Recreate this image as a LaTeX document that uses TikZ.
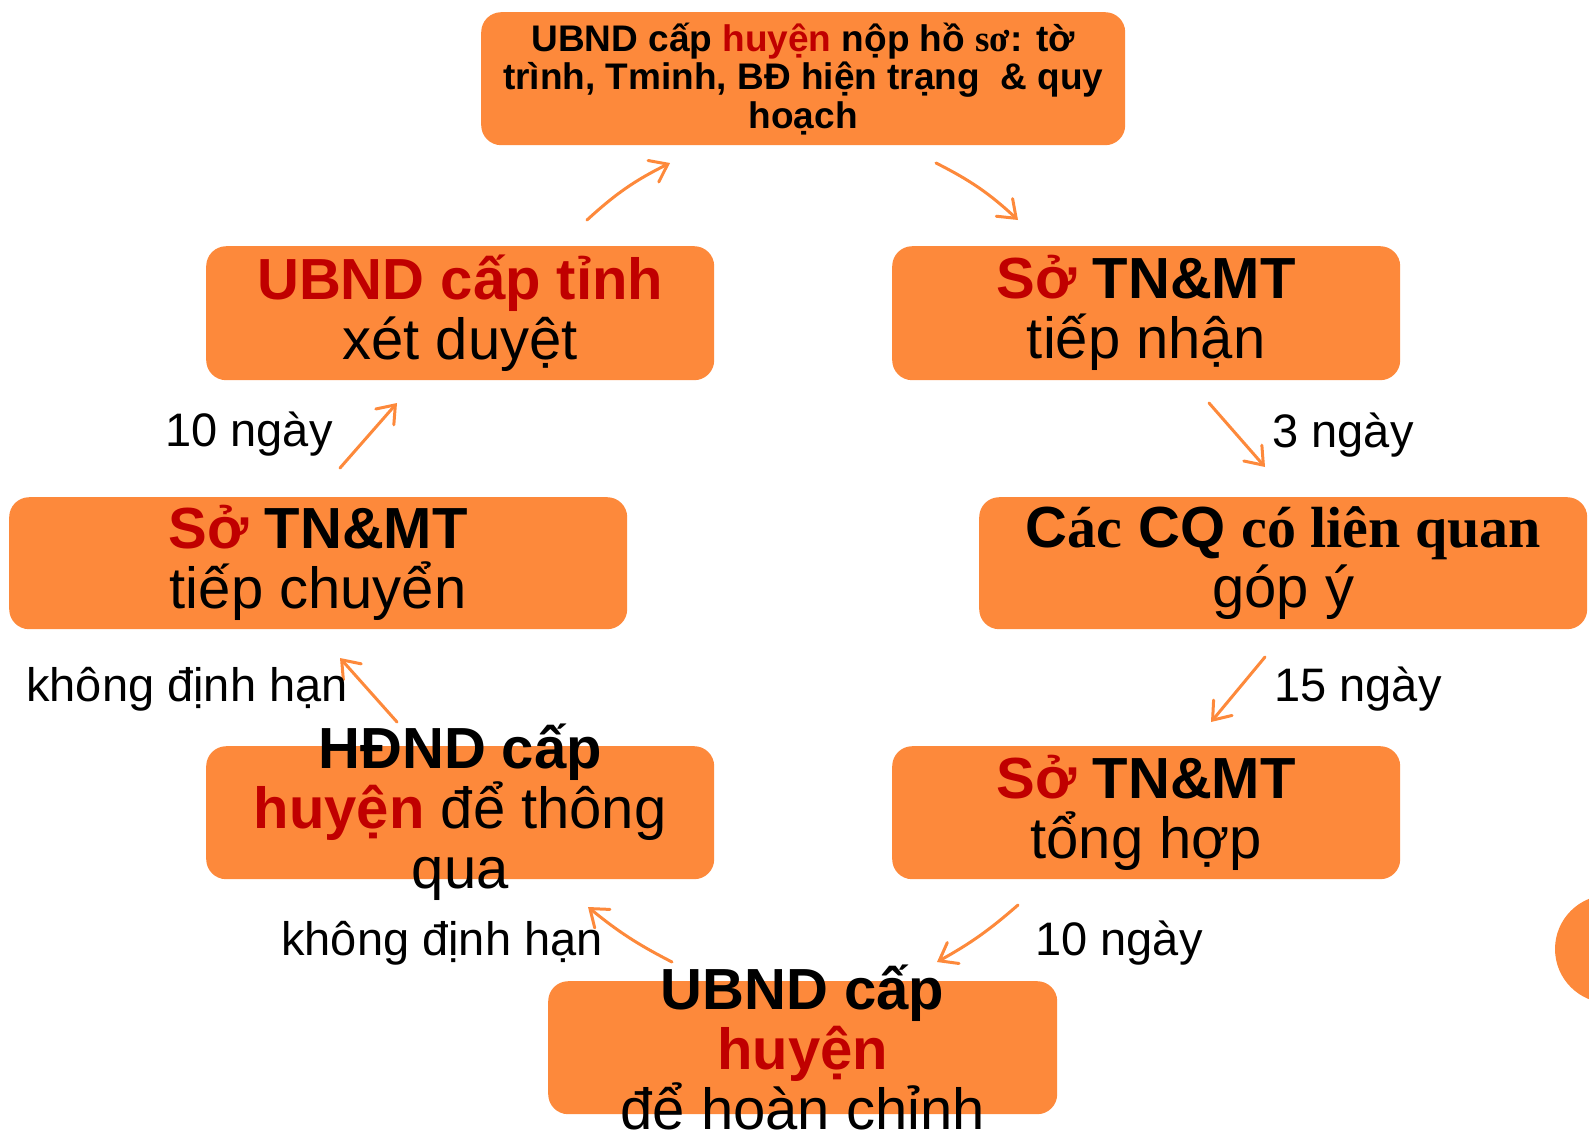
\documentclass[tikz,border=0pt]{standalone}
\usepackage{fontspec}
\setmainfont{Liberation Sans}
\newfontfamily\timesfont{Liberation Serif}
\usetikzlibrary{arrows.meta,calc}
\definecolor{boxorange}{RGB}{253,137,59}
\definecolor{darkred}{RGB}{192,0,0}
\tikzset{
  stagebox/.style={fill=boxorange, draw=none, rounded corners=20pt,
    inner sep=0pt, anchor=north west},
  bigtext/.style={align=center, inner sep=0pt,
    font=\fontsize{58}{60}\selectfont},
  toptext/.style={align=center, inner sep=0pt,
    font=\fontsize{37}{38.5}\selectfont\bfseries},
  daylabel/.style={anchor=base, inner sep=0pt,
    font=\fontsize{47}{50}\selectfont},
  flow/.style={draw=boxorange, line width=3pt, line cap=round,
    -{Straight Barb[length=16pt,width=24pt,line cap=round]}},
}
\begin{document}
\begin{tikzpicture}[x=1pt,y=-1pt]
\useasboundingbox (0,0) rectangle (1589,1133);

% stage boxes
\node[stagebox, minimum width=644pt, minimum height=133pt] (top) at (481,12) {};
\node[stagebox, minimum width=508pt, minimum height=134pt] (tinh) at (206,246) {};
\node[stagebox, minimum width=508pt, minimum height=134pt] (nhan) at (892,246) {};
\node[stagebox, minimum width=618pt, minimum height=132pt] (chuyen) at (9,497) {};
\node[stagebox, minimum width=608pt, minimum height=132pt] (gopy) at (979,497) {};
\node[stagebox, minimum width=508pt, minimum height=133pt] (hdnd) at (206,746) {};
\node[stagebox, minimum width=508pt, minimum height=133pt] (tonghop) at (892,746) {};
\node[stagebox, minimum width=509pt, minimum height=133pt] (huyen) at (548,981) {};

% decorative disc at the right edge
\fill[boxorange] (1609,949) circle[radius=54pt];

% box texts
\node[toptext] (top-t) at (top.center)
  {UBND cấp {\color{darkred}huyện} nộp hồ {\timesfont sơ}: tờ\\
   trình, Tminh, BĐ hiện trạng\ \ \& quy\\hoạch};
\node[bigtext] (tinh-t) at (tinh.center)
  {{\bfseries\color{darkred}UBND cấp tỉnh}\\xét duyệt};
\node[bigtext] (nhan-t) at (nhan.center)
  {{\bfseries{\color{darkred}Sở} TN\&MT}\\tiếp nhận};
\node[bigtext] (chuyen-t) at (chuyen.center)
  {{\bfseries{\color{darkred}Sở} TN\&MT}\\tiếp chuyển};
\node[bigtext] (gopy-t) at (gopy.center)
  {{\bfseries C{\timesfont ác} CQ {\timesfont có liên quan}}\\góp ý};
\node[bigtext] (hdnd-t) at (hdnd.center)
  {{\bfseries HĐND cấp}\\{\bfseries\color{darkred}huyện} để thông\\qua};
\node[bigtext] (tonghop-t) at (tonghop.center)
  {{\bfseries{\color{darkred}Sở} TN\&MT}\\tổng hợp};
\node[bigtext] (huyen-t) at (huyen.center)
  {{\bfseries UBND cấp}\\{\bfseries\color{darkred}huyện}\\để hoàn chỉnh};

% arrow end points
\coordinate (a1s) at (587,220);  \coordinate (a1e) at (670,163);
\coordinate (a2s) at (936,163);  \coordinate (a2e) at (1018,220);
\coordinate (a3s) at (1209,403); \coordinate (a3e) at (1265,467);
\coordinate (a4s) at (1265,657); \coordinate (a4e) at (1211,722);
\coordinate (a5s) at (1018,905); \coordinate (a5e) at (937,962);
\coordinate (a6s) at (672,962);  \coordinate (a6e) at (588,907);
\coordinate (a7s) at (397,722);  \coordinate (a7e) at (340,658);
\coordinate (a8s) at (340,468);  \coordinate (a8e) at (397,403);

% flow arrows
\draw[flow] (a1s) to[bend left=8] (a1e);
\draw[flow] (a2s) to[bend left=8] (a2e);
\draw[flow] (a3s) -- (a3e);
\draw[flow] (a4s) -- (a4e);
\draw[flow] (a5s) to[bend left=6] (a5e);
\draw[flow] (a6s) to[bend left=6] (a6e);
\draw[flow] (a7s) -- (a7e);
\draw[flow] (a8s) -- (a8e);

% durations
\node[daylabel] (d1) at (249,446) {10 ngày};
\node[daylabel] (d2) at (1343,447) {3 ngày};
\node[daylabel] (d3) at (187,701) {không định hạn};
\node[daylabel] (d4) at (1358,701) {15 ngày};
\node[daylabel] (d5) at (442,955) {không định hạn};
\node[daylabel] (d6) at (1119,955) {10 ngày};
\end{tikzpicture}
\end{document}
